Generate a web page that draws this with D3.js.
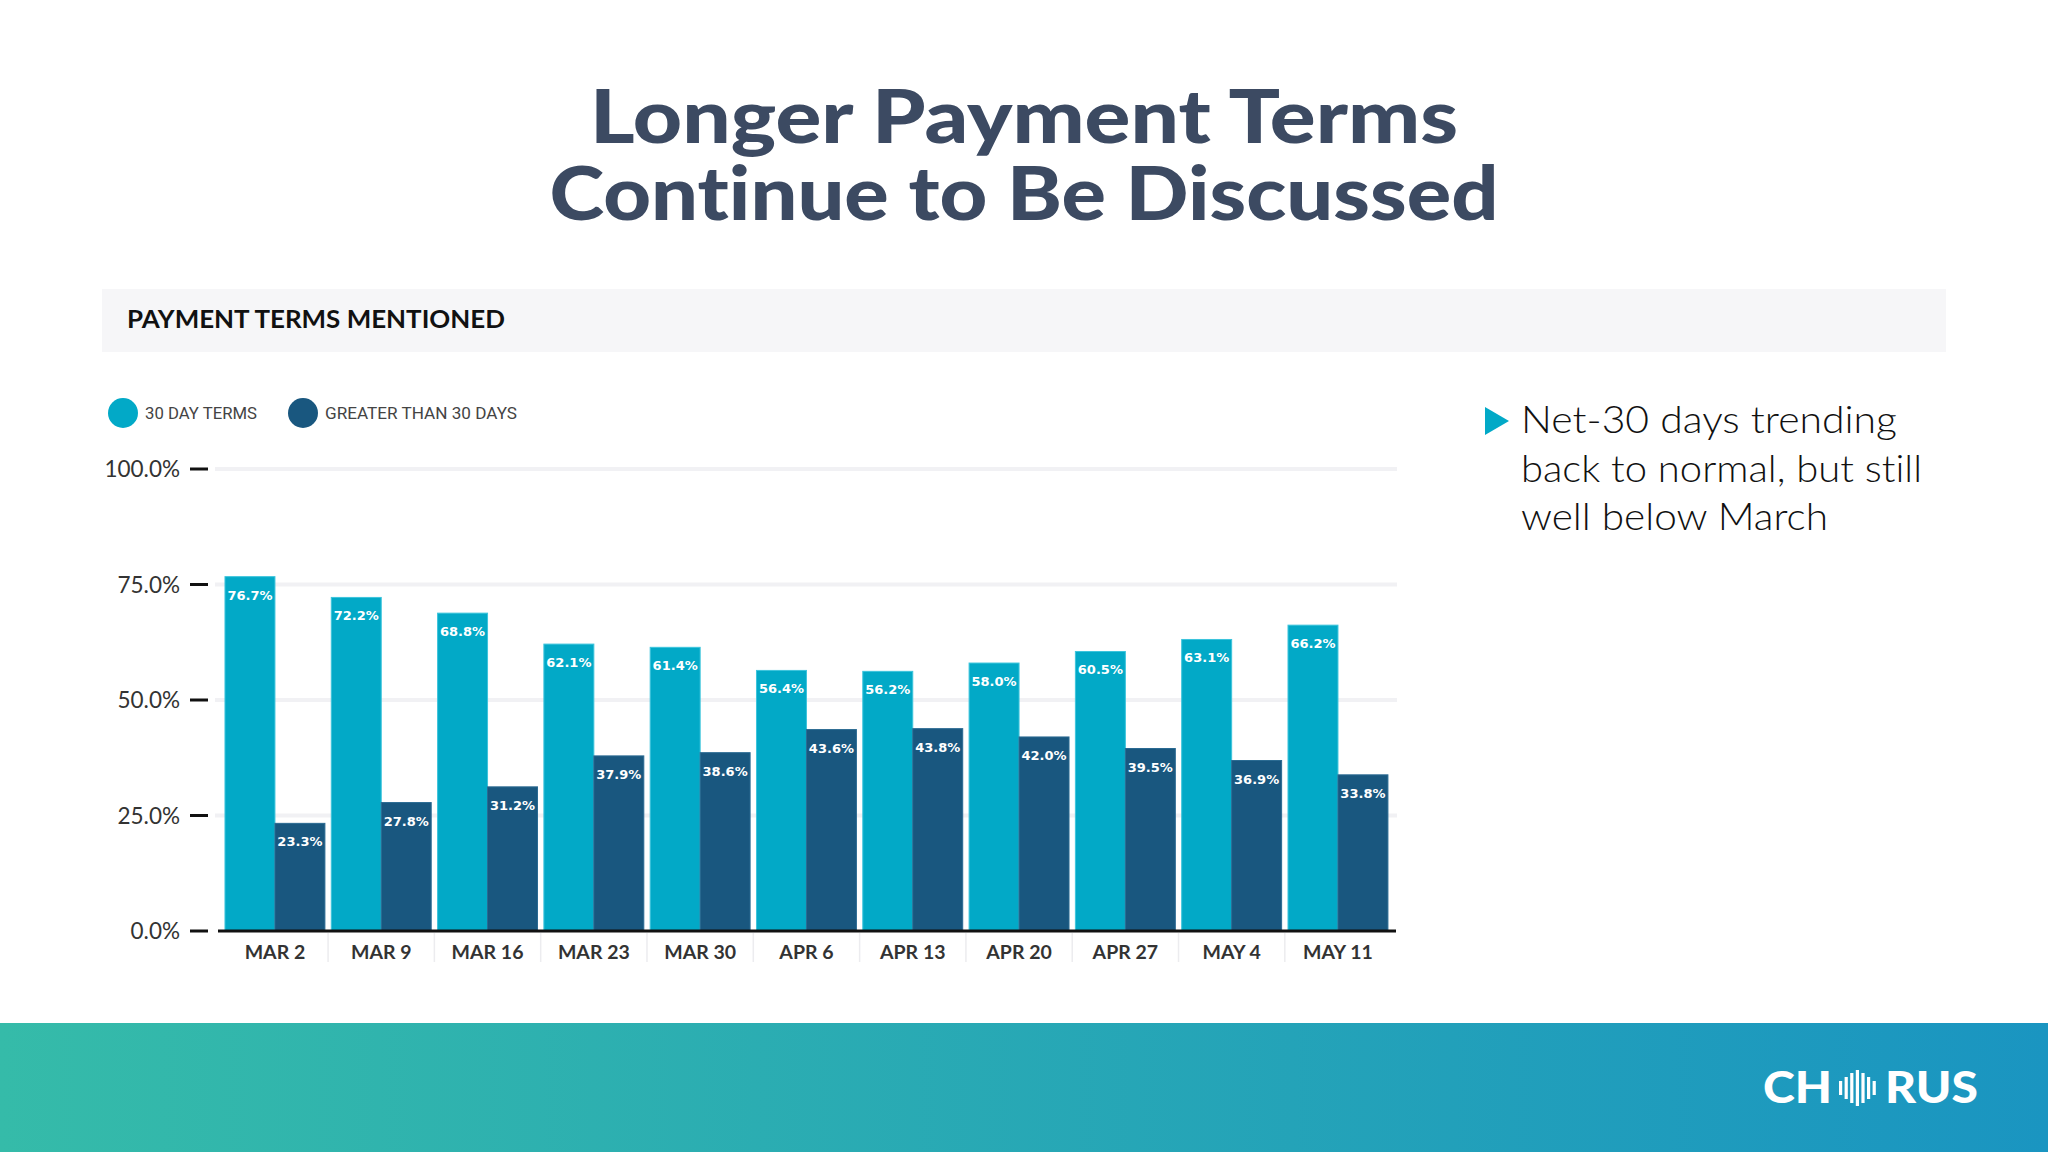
<!DOCTYPE html>
<html><head><meta charset="utf-8">
<script src="https://cdn.jsdelivr.net/npm/d3@7"></script>
<style>html,body{margin:0;padding:0;background:#fff;overflow:hidden}svg{display:block}text{font-variant-ligatures:none}</style>
</head><body>
<svg id="c" width="2048" height="1152"></svg>
<script>
const categories = ["MAR 2","MAR 9","MAR 16","MAR 23","MAR 30","APR 6","APR 13","APR 20","APR 27","MAY 4","MAY 11"];
const thirtyDay = [76.7,72.2,68.8,62.1,61.4,56.4,56.2,58.0,60.5,63.1,66.2];
const greaterThan30 = [23.3,27.8,31.2,37.9,38.6,43.6,43.8,42.0,39.5,36.9,33.8];
const seriesNames = ["30 DAY TERMS","GREATER THAN 30 DAYS"];
const yTicks = [0,25,50,75,100];
const titleLines = ["Longer Payment Terms","Continue to Be Discussed"];
const noteLines = ["Net-30 days trending","back to normal, but still","well below March"];

const C1 = "#02a9c7", C2 = "#19577f";
const svg = d3.select("#c");

const defs = svg.append("defs");
const g = defs.append("linearGradient").attr("id","foot").attr("x1","0").attr("x2","1");
g.append("stop").attr("offset","0").attr("stop-color","#35bba9");
g.append("stop").attr("offset","1").attr("stop-color","#1a95c1");

// title (one text element, two lines)
const title = svg.append("text").attr("text-anchor","middle").attr("fill","#3c4a62")
  .style("font-family","Lato, 'Open Sans', sans-serif").style("font-weight","900").style("font-size","74px");
title.selectAll("tspan").data(titleLines).join("tspan")
  .attr("x",1024).attr("y",(d,i)=>143+i*77)
  .attr("textLength",(d,i)=>[868,949][i]).attr("lengthAdjust","spacingAndGlyphs")
  .text(d=>d);

// header band
svg.append("rect").attr("x",102).attr("y",289).attr("width",1844).attr("height",63).attr("fill","#f6f6f8");
svg.append("text").attr("x",127).attr("y",328).attr("fill","#111")
  .style("font-family","Lato, sans-serif").style("font-weight","700").style("font-size","24px")
  .attr("textLength",378).attr("lengthAdjust","spacingAndGlyphs")
  .text("PAYMENT TERMS MENTIONED");

// legend
const legX = [123,303];
const leg = svg.selectAll("g.leg").data(seriesNames).join("g").attr("class","leg");
leg.append("circle").attr("cx",(d,i)=>legX[i]).attr("cy",413).attr("r",15).attr("fill",(d,i)=>[C1,C2][i]);
leg.append("text").attr("x",(d,i)=>legX[i]+22).attr("y",419).attr("fill","#444")
  .style("font-family","Roboto, sans-serif").style("font-size","16px")
  .attr("textLength",(d,i)=>[112,192][i]).attr("lengthAdjust","spacingAndGlyphs")
  .text(d=>d);

// scales
const y = d3.scaleLinear().domain([0,100]).range([931,469]);
const x = d3.scaleBand().domain(categories).range([218.6,1394.3]).paddingInner(0.06).paddingOuter(0.06);
const xs = d3.scaleBand().domain([0,1]).range([0,x.bandwidth()]);

// gridlines
svg.append("g").selectAll("line").data(yTicks.filter(t=>t>0)).join("line")
  .attr("x1",215).attr("x2",1397).attr("y1",d=>y(d)).attr("y2",d=>y(d))
  .attr("stroke","#f1f1f4").attr("stroke-width",4);

// y axis
const yAxis = d3.axisLeft(y).tickValues(yTicks).tickSize(0).tickPadding(0).tickFormat(d=>d3.format(".1f")(d)+"%");
const ya = svg.append("g").attr("transform","translate(180,0)").call(yAxis);
ya.select(".domain").remove();
ya.selectAll("text").attr("x",0).attr("dy","0.35em").attr("fill","#333")
  .style("font-family","Lato, sans-serif").style("font-size","22.5px");
svg.append("g").selectAll("line").data(yTicks).join("line")
  .attr("x1",190).attr("x2",208).attr("y1",d=>y(d)).attr("y2",d=>y(d))
  .attr("stroke","#111").attr("stroke-width",3);

// bars
const series = [thirtyDay, greaterThan30];
const groups = svg.append("g").selectAll("g").data(categories).join("g")
  .attr("transform",d=>`translate(${x(d)},0)`);
groups.selectAll("rect").data((d,i)=>series.map((s,k)=>({k,v:s[i]}))).join("rect")
  .attr("x",d=>xs(d.k)).attr("width",xs.bandwidth())
  .attr("y",d=>y(d.v)).attr("height",d=>y(0)-y(d.v))
  .attr("fill",d=>[C1,C2][d.k])
  .attr("stroke",d=>d.k===0?"#3cc4dc":"#2a6a92").attr("stroke-width",1);
groups.selectAll("text").data((d,i)=>series.map((s,k)=>({k,v:s[i]}))).join("text")
  .attr("x",d=>xs(d.k)+xs.bandwidth()/2).attr("y",d=>y(d.v)+23)
  .attr("text-anchor","middle").attr("fill","#fff")
  .style("font-family","'DejaVu Sans', sans-serif").style("font-weight","bold").style("font-size","13px")
  .text(d=>d3.format(".1f")(d.v)+"%");

// x axis
const xAxis = d3.axisBottom(x).tickSize(0).tickPadding(0);
const xa = svg.append("g").attr("transform","translate(0,931)").call(xAxis);
xa.select(".domain").remove();
xa.selectAll("text").attr("y",28).attr("dy",0).attr("fill","#333")
  .style("font-family","Lato, sans-serif").style("font-weight","700").style("font-size","19.5px");
svg.append("line").attr("x1",218).attr("x2",1396).attr("y1",931).attr("y2",931).attr("stroke","#111").attr("stroke-width",3);
svg.append("g").selectAll("line").data(categories.slice(1)).join("line")
  .attr("x1",d=>x(d)-x.step()*x.paddingInner()/2).attr("x2",d=>x(d)-x.step()*x.paddingInner()/2)
  .attr("y1",933).attr("y2",962).attr("stroke","#ececef").attr("stroke-width",1.5);

// note
svg.append("path").attr("d","M1485,407 L1509,421 L1485,435 Z").attr("fill","#02a9c7");
svg.selectAll("text.note").data(noteLines).join("text").attr("class","note")
  .attr("x",1521).attr("y",(d,i)=>433+i*48.5).attr("fill","#111")
  .style("font-family","Lato, sans-serif").style("font-weight","300").style("font-size","37px")
  .attr("textLength",(d,i)=>[376,401,307][i]).attr("lengthAdjust","spacingAndGlyphs")
  .text(d=>d);

// footer
svg.append("rect").attr("x",0).attr("y",1023).attr("width",2048).attr("height",129).attr("fill","url(#foot)");
const logo = svg.append("g");
logo.append("text").attr("x",1763).attr("y",1103).attr("fill","#fff")
  .style("font-family","Lato, sans-serif").style("font-weight","900").style("font-size","43px")
  .attr("textLength",69).attr("lengthAdjust","spacingAndGlyphs").text("CH");
logo.append("text").attr("x",1885).attr("y",1103).attr("fill","#fff")
  .style("font-family","Lato, sans-serif").style("font-weight","900").style("font-size","43px")
  .attr("textLength",93).attr("lengthAdjust","spacingAndGlyphs").text("RUS");
const wave = [14,22,30,36,30,22,14];
logo.selectAll("rect").data(wave).join("rect")
  .attr("x",(d,i)=>1839+i*5.6).attr("width",3.2)
  .attr("y",d=>1088-d/2).attr("height",d=>d).attr("fill","#fff");
</script>
</body></html>
